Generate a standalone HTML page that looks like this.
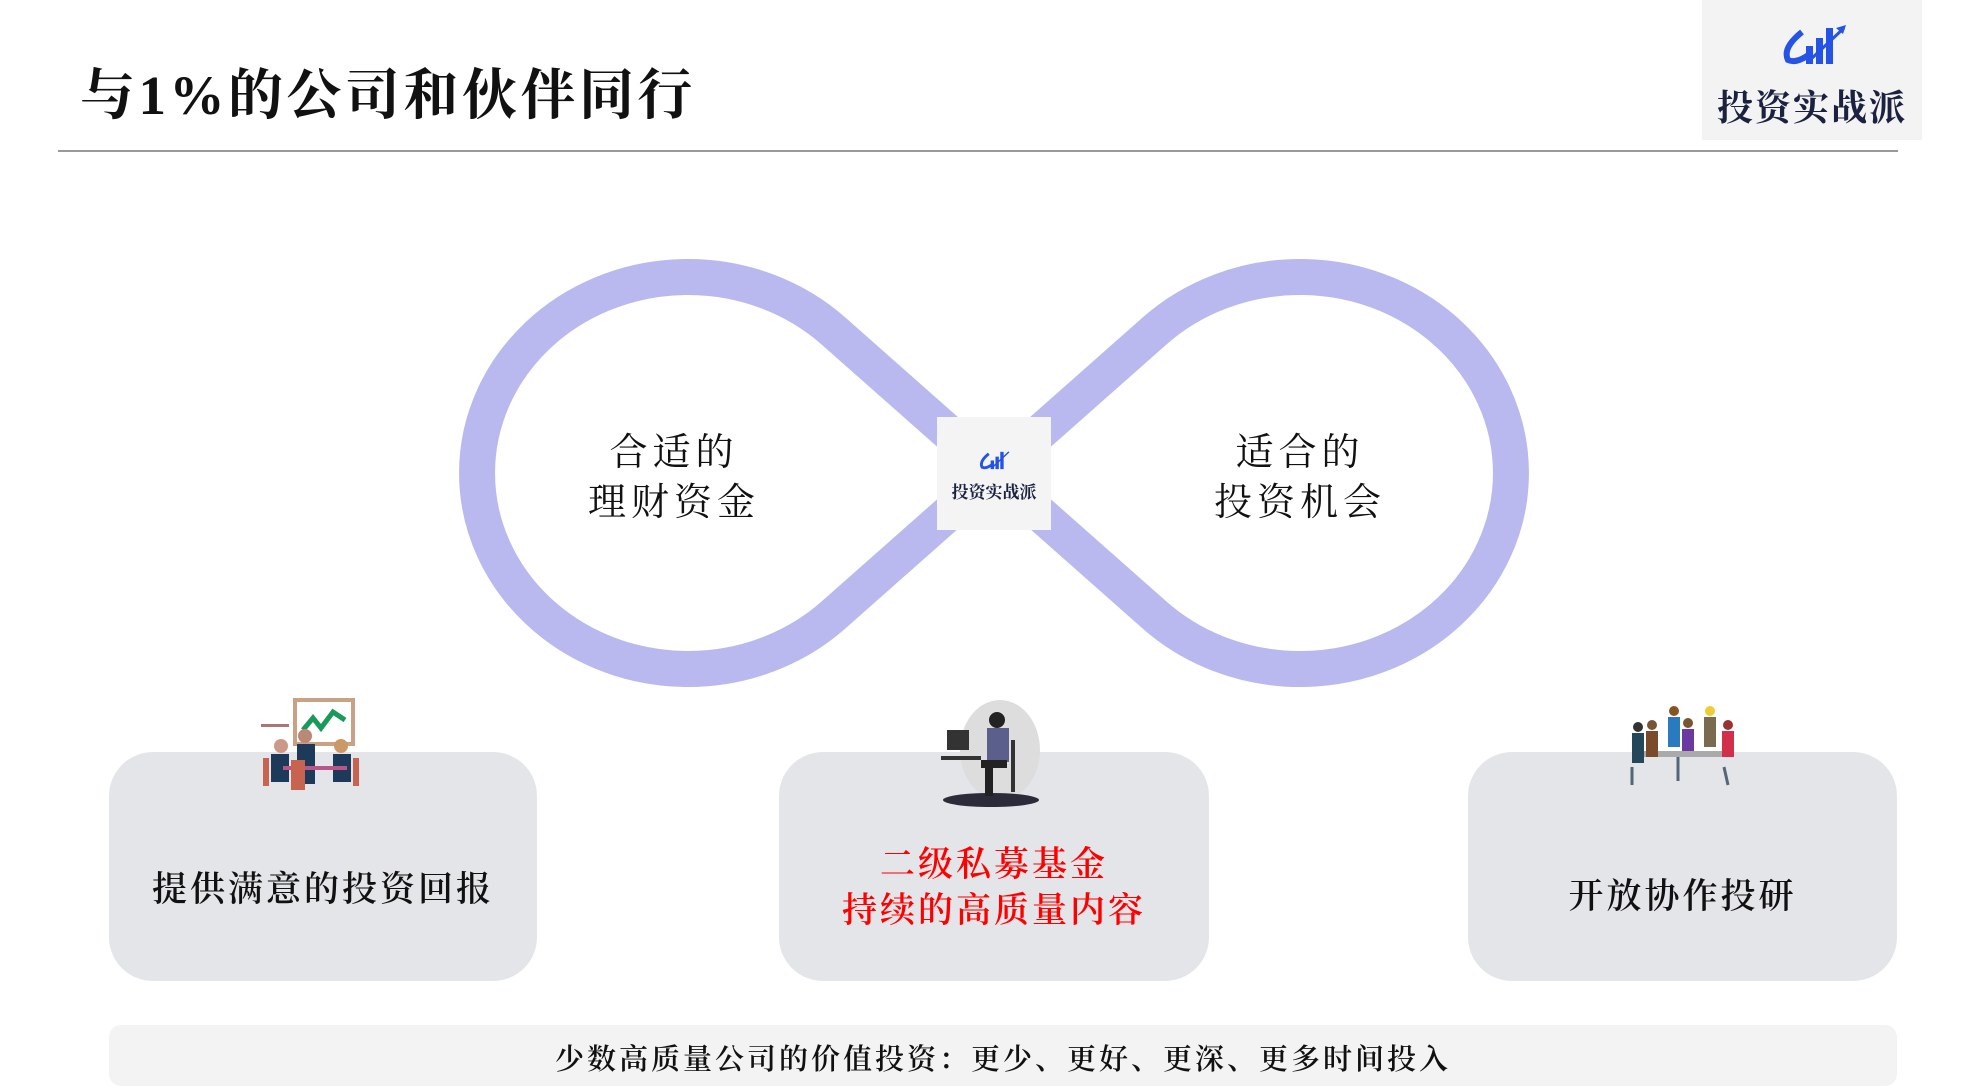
<!DOCTYPE html>
<html><head><meta charset="utf-8"><style>
body{margin:0;width:1964px;height:1092px;background:#fff;position:relative;overflow:hidden;font-family:"Liberation Serif","Noto Serif CJK SC",serif;}
.a{position:absolute}
.card{position:absolute;background:#e4e5e9;border-radius:44px;top:752px;height:229px;}
.ct{position:absolute;left:0;right:0;text-align:center;color:#111;font-size:35px;letter-spacing:3px;font-weight:600}
</style></head><body>
<div class="a" style="left:80px;top:60px;font-size:55px;font-weight:700;color:#111;letter-spacing:3.5px;line-height:72px">与1%的公司和伙伴同行</div>
<div class="a" style="left:58px;top:150px;width:1840px;height:2px;background:#999"></div>
<div class="a" style="left:1702px;top:0;width:220px;height:140px;background:#f3f3f3"></div>
<svg class="a" style="left:1780px;top:20px" width="70" height="50" viewBox="0 0 70 50">
<path d="M22 12 Q2 28 8 40 Q16 44 30 34" fill="none" stroke="#2453e6" stroke-width="6"/>
<rect x="26" y="26" width="7" height="18" fill="#2453e6"/><rect x="36" y="18" width="7" height="26" fill="#2453e6"/><rect x="46" y="8" width="7" height="36" fill="#2453e6"/>
<path d="M30 40 L64 8" stroke="#2453e6" stroke-width="3"/><path d="M66 5 L56 8 L63 14Z" fill="#2453e6"/></svg>
<div class="a" style="left:1702px;top:80px;width:220px;text-align:center;font-size:36px;color:#1b2240;font-weight:700;letter-spacing:2px">投资实战派</div>

<svg class="a" style="left:0;top:0" width="1964" height="1092">
<path d="M833.6 331.1 A211 196 0 1 0 833.6 614.9 L1154.4 331.1 A211 196 0 1 1 1154.4 614.9 Z" fill="none" stroke="#b9b9ef" stroke-width="36"/>
</svg>
<div class="a" style="left:937px;top:417px;width:114px;height:113px;background:#f4f4f4"></div>
<svg class="a" style="left:978px;top:448px" width="34" height="24" viewBox="0 0 70 50">
<path d="M22 12 Q2 28 8 40 Q16 44 30 34" fill="none" stroke="#2453e6" stroke-width="6"/>
<rect x="26" y="26" width="7" height="18" fill="#2453e6"/><rect x="36" y="18" width="7" height="26" fill="#2453e6"/><rect x="46" y="8" width="7" height="36" fill="#2453e6"/>
<path d="M30 40 L64 8" stroke="#2453e6" stroke-width="3"/></svg>
<div class="a" style="left:937px;top:478px;width:114px;text-align:center;font-size:17px;color:#1b2240;font-weight:700">投资实战派</div>

<div class="a" style="left:574px;top:428px;width:200px;text-align:center;font-size:38px;line-height:50px;letter-spacing:5px;color:#111">合适的<br>理财资金</div>
<div class="a" style="left:1200px;top:428px;width:200px;text-align:center;font-size:38px;line-height:50px;letter-spacing:5px;color:#111">适合的<br>投资机会</div>

<div class="card" style="left:109px;width:428px"><div class="ct" style="top:110px">提供满意的投资回报</div></div>
<div class="card" style="left:779px;width:430px"><div class="ct" style="top:90px;color:#f00;line-height:46px">二级私募基金<br>持续的高质量内容</div></div>
<div class="card" style="left:1468px;width:429px"><div class="ct" style="top:117px">开放协作投研</div></div>

<svg class="a" style="left:253px;top:694px" width="120" height="110">
<rect x="42" y="6" width="58" height="44" fill="#fff" stroke="#c9a184" stroke-width="4"/>
<path d="M50 36 L60 24 L68 34 L80 18 L92 26" fill="none" stroke="#1a9a5a" stroke-width="5"/>
<rect x="8" y="30" width="28" height="3" fill="#a77"/>
<circle cx="28" cy="52" r="7" fill="#c98"/><rect x="18" y="60" width="18" height="28" fill="#1e3a5a"/>
<circle cx="52" cy="42" r="7" fill="#b87"/><rect x="44" y="50" width="18" height="40" fill="#1e3a5a"/>
<circle cx="88" cy="52" r="7" fill="#c96"/><rect x="80" y="60" width="18" height="28" fill="#1e3a5a"/>
<rect x="30" y="72" width="64" height="4" fill="#b58"/>
<rect x="38" y="66" width="14" height="30" fill="#c86350"/>
<rect x="10" y="64" width="6" height="28" fill="#c86350"/><rect x="100" y="64" width="6" height="28" fill="#c86350"/>
</svg>
<svg class="a" style="left:937px;top:700px" width="110" height="110">
<ellipse cx="63" cy="50" rx="40" ry="50" fill="#ddd"/>
<ellipse cx="54" cy="100" rx="48" ry="7" fill="#2b2b3a"/>
<rect x="10" y="30" width="22" height="20" fill="#333"/><rect x="4" y="56" width="40" height="4" fill="#333"/>
<circle cx="60" cy="20" r="8" fill="#222"/><rect x="50" y="28" width="22" height="34" fill="#5a5f8c"/>
<rect x="44" y="60" width="26" height="8" fill="#222"/><rect x="48" y="66" width="8" height="30" fill="#222"/>
<rect x="74" y="40" width="4" height="52" fill="#333"/></svg>
<svg class="a" style="left:1618px;top:705px" width="140" height="90">
<rect x="26" y="46" width="80" height="6" fill="#aaa"/>
<circle cx="20" cy="22" r="5" fill="#333"/><rect x="14" y="28" width="12" height="30" fill="#24485a"/>
<circle cx="34" cy="20" r="5" fill="#753"/><rect x="28" y="26" width="12" height="26" fill="#7a4a2a"/>
<circle cx="56" cy="6" r="5" fill="#852"/><rect x="50" y="12" width="12" height="30" fill="#2a7ac0"/>
<circle cx="70" cy="18" r="5" fill="#753"/><rect x="64" y="24" width="12" height="22" fill="#6a3aa0"/>
<circle cx="92" cy="6" r="5" fill="#ec3"/><rect x="86" y="12" width="12" height="30" fill="#7a6a50"/>
<circle cx="110" cy="20" r="5" fill="#933"/><rect x="104" y="26" width="12" height="26" fill="#d2304a"/>
<path d="M14 62 L14 80 M106 62 L110 80 M60 52 L60 76" stroke="#567" stroke-width="3"/></svg>

<div class="a" style="left:109px;top:1025px;width:1788px;height:61px;background:#f3f3f3;border-radius:12px"></div>
<div class="a" style="left:109px;top:1037px;width:1788px;text-align:center;font-size:29px;color:#111;letter-spacing:3px;font-weight:600">少数高质量公司的价值投资：更少、更好、更深、更多时间投入</div>
</body></html>
